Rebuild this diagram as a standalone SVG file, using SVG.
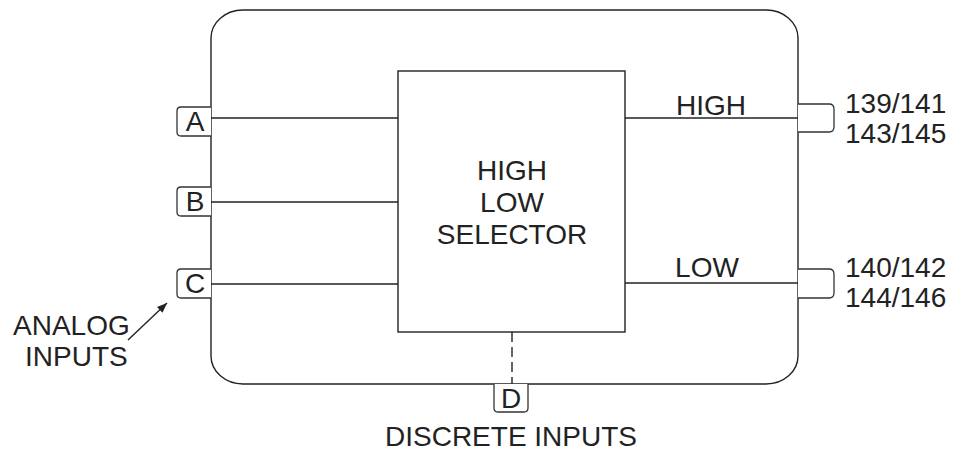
<svg xmlns="http://www.w3.org/2000/svg" width="959" height="451" viewBox="0 0 959 451">
<defs>
<style>
.ln{fill:none;stroke:#222;stroke-width:1.4}
.tab{fill:#fff;stroke:#333;stroke-width:1.3}
.t{font-family:"Liberation Sans",Arial,sans-serif;font-size:28px;fill:#222}
.m{text-anchor:middle}
</style>
<marker id="ah" viewBox="0 0 10 10" refX="10" refY="5" markerWidth="10" markerHeight="10" markerUnits="userSpaceOnUse" orient="auto">
<path d="M0,1 L10,5 L0,9 Z" fill="#222"/>
</marker>
</defs>
<rect width="959" height="451" fill="#fff"/>
<g id="module">
<rect class="ln" x="211" y="10" width="587" height="374" rx="32" ry="28"/>
</g>
<g id="selector">
<rect class="ln" x="398" y="71" width="227" height="261"/>
<text class="t m" x="512" y="180">HIGH</text>
<text class="t m" x="512" y="212">LOW</text>
<text class="t m" x="512" y="244">SELECTOR</text>
</g>
<g id="inA">
<path class="tab" d="M211,107 H181 Q177,107 177,111 V132 Q177,136 181,136 H211"/>
<text class="t m" x="195" y="131">A</text>
</g>
<g id="inB">
<path class="tab" d="M211,187 H181 Q177,187 177,191 V212 Q177,216 181,216 H211"/>
<text class="t m" x="195" y="211">B</text>
</g>
<g id="inC">
<path class="tab" d="M211,269 H181 Q177,269 177,273 V294 Q177,298 181,298 H211"/>
<text class="t m" x="195" y="293">C</text>
</g>
<g id="inD">
<path class="tab" d="M494,384 V408 Q494,412 498,412 H524 Q528,412 528,408 V384"/>
<text class="t m" x="511" y="408">D</text>
</g>
<g id="outHigh">
<path class="tab" d="M798,104 H829 Q834,104 834,109 V127 Q834,132 829,132 H798"/>
<text class="t" x="845" y="113">139/141</text>
<text class="t" x="845" y="143">143/145</text>
</g>
<g id="outLow">
<path class="tab" d="M798,269 H829 Q834,269 834,274 V293 Q834,298 829,298 H798"/>
<text class="t" x="845" y="277">140/142</text>
<text class="t" x="845" y="307">144/146</text>
</g>
<g id="labels">
<text class="t" x="13" y="335">ANALOG</text>
<text class="t" x="25" y="366">INPUTS</text>
<text class="t m" x="511" y="446">DISCRETE INPUTS</text>
</g>
<g id="connectors">
<line class="ln" x1="211" y1="118" x2="398" y2="118"/>
<line class="ln" x1="211" y1="202" x2="398" y2="202"/>
<line class="ln" x1="211" y1="284" x2="398" y2="284"/>
<line class="ln" x1="625" y1="118" x2="798" y2="118"/>
<text class="t m" x="711" y="115">HIGH</text>
<line class="ln" x1="625" y1="283" x2="798" y2="283"/>
<text class="t m" x="707" y="277">LOW</text>
<line class="ln" x1="512" y1="332" x2="512" y2="384" stroke-dasharray="10,5"/>
<line class="ln" x1="128" y1="340" x2="167" y2="303" marker-end="url(#ah)"/>
</g>
</svg>
